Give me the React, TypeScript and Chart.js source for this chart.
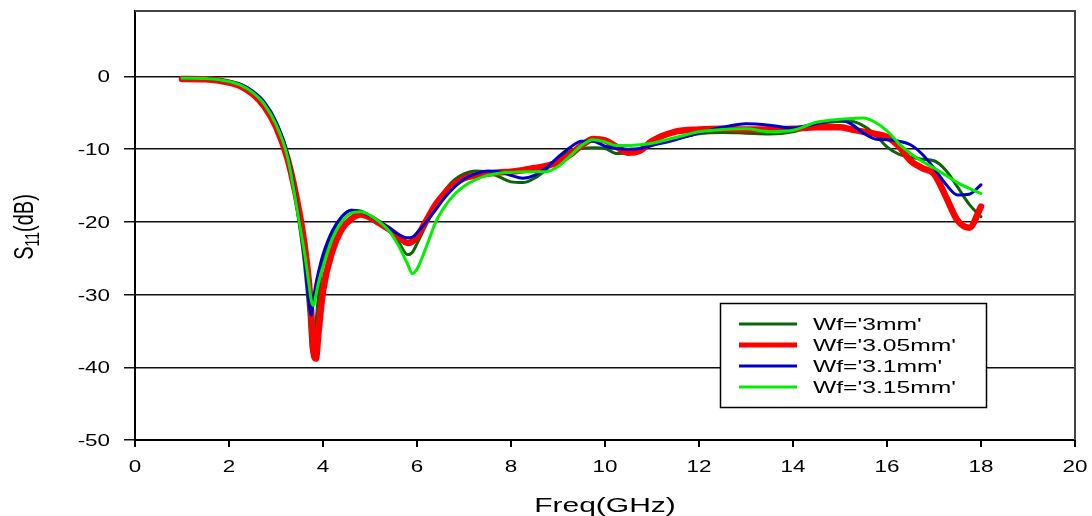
import React, { useEffect, useRef } from "react";
import { Chart, registerables } from "chart.js";

Chart.register(...registerables);

// ---- data ----
const freq = [
  1, 1.5, 2, 2.25, 2.5, 2.75, 3, 3.25, 3.5,
  3.6, 3.7, 3.75, 3.8, 3.85, 3.9, 4.0,
  4.2, 4.4, 4.6, 4.8, 5.0, 5.2, 5.4, 5.6, 5.8, 5.9,
  6.0, 6.2, 6.4, 6.6, 6.8, 7.0,
  7.25, 7.5, 7.75, 8.0, 8.25, 8.5, 8.75, 9.0,
  9.25, 9.5, 9.75, 10.0, 10.25, 10.5, 10.75, 11,
  11.5, 12, 12.5, 13, 13.5, 14, 14.5, 15,
  15.25, 15.5, 15.75, 16, 16.25, 16.5, 16.75, 17,
  17.25, 17.5, 17.75, 18,
];

const wf300 = [
  -0.25, -0.3, -0.75, -1.2, -2.1, -3.7, -6.4, -11.0, -20.5,
  -25.5, -32.5, -37.5, -38.3, -34.0, -30.5, -25.5,
  -21.5, -19.3, -18.4, -18.5, -19.2, -20.1, -21.2, -22.7, -24.5, -24.2,
  -23.0, -20.3, -17.6, -15.6, -14.2, -13.4,
  -13.0, -13.2, -13.8, -14.5, -14.6, -14.0, -12.8, -11.3,
  -10.3, -9.9, -9.8, -9.9, -10.6, -10.5, -10.0, -9.3,
  -8.6, -7.9, -7.7, -7.8, -7.9, -7.6, -6.6, -6.2,
  -6.2, -6.8, -8.0, -9.7, -10.7, -11.1, -11.4, -11.6,
  -12.9, -15.2, -17.6, -19.3,
];

const wf305 = [
  -0.35, -0.4, -0.85, -1.35, -2.4, -4.1, -6.9, -11.4, -18.8,
  -22.8, -28.3, -32.5, -38.0, -38.8, -35.5, -29.5,
  -24.0, -21.0, -19.6, -19.0, -19.4, -20.2, -21.0, -22.0, -22.9, -22.7,
  -22.0, -19.8, -17.6, -16.0, -14.8, -14.0,
  -13.6, -13.4, -13.2, -13.1, -12.9, -12.6, -12.3, -11.8,
  -10.8, -9.5, -8.6, -8.8, -9.7, -10.5, -10.2, -8.9,
  -7.6, -7.3, -7.2, -7.3, -7.3, -7.2, -7.0, -7.0,
  -7.3, -7.6, -7.9, -8.3, -9.6, -11.6, -12.6, -13.4,
  -16.5, -19.8, -20.8, -17.9,
];

const wf310 = [
  -0.25, -0.3, -0.7, -1.1, -2.0, -3.5, -6.2, -10.8, -20.0,
  -24.5, -31.0, -32.8, -30.5, -28.5, -27.0, -24.5,
  -21.2, -19.3, -18.4, -18.6, -19.2, -20.0, -20.8, -21.7, -22.2, -22.1,
  -21.5, -20.0, -18.3, -16.6, -15.2, -14.1,
  -13.4, -13.0, -13.1, -13.6, -14.0, -13.6, -12.6, -11.1,
  -9.8, -8.9, -8.9, -9.6, -9.9, -10.0, -9.9, -9.5,
  -8.7, -7.8, -7.0, -6.5, -6.7, -7.1, -6.5, -6.0,
  -6.6, -7.8, -8.6, -8.7, -8.9, -9.4, -10.7, -12.6,
  -14.8, -16.3, -16.2, -14.9,
];

const wf315 = [
  -0.25, -0.3, -0.7, -1.2, -2.2, -3.8, -6.6, -11.2, -20.2,
  -24.0, -28.5, -30.8, -31.5, -30.0, -28.5, -26.2,
  -22.3, -20.0, -18.8, -18.6, -19.1, -20.0, -21.2, -23.2, -25.8, -27.1,
  -26.5, -23.4, -20.0, -17.8, -16.2, -15.1,
  -14.2, -13.6, -13.3, -13.2, -13.1, -13.1, -13.1, -12.4,
  -11.0, -9.5, -8.7, -9.0, -9.5, -9.5, -9.4, -9.2,
  -8.4, -7.6, -7.3, -7.2, -7.6, -7.4, -6.3, -5.9,
  -5.8, -5.7, -6.3, -7.5, -9.2, -10.6, -11.7, -12.6,
  -13.6, -14.6, -15.4, -16.1,
];

const seriesLabels = ["Wf='3mm'", "Wf='3.05mm'", "Wf='3.1mm'", "Wf='3.15mm'"];
const seriesValues = [wf300, wf305, wf310, wf315];
const seriesColors = ["#0b640b", "#ff0000", "#0000c8", "#00f000"];
const seriesWidths = [3, 6.5, 3, 3];
const legendWidths = [3, 5, 3, 3];
const seriesOrder = [3, 2, 1, 0];

const xTicks = [0, 2, 4, 6, 8, 10, 12, 14, 16, 18, 20];
const yTicks = [-50, -40, -30, -20, -10, 0];
const xTitle = "Freq(GHz)";
const yTitleMain = "S";
const yTitleSub = "11";
const yTitleUnit = "(dB)";

const FONT = '"Liberation Sans", Arial, sans-serif';

function stretchText(
  ctx: CanvasRenderingContext2D,
  text: string,
  x: number,
  y: number,
  align: CanvasTextAlign,
  sx: number,
  font: string
) {
  ctx.save();
  ctx.font = font;
  ctx.fillStyle = "#000";
  ctx.textBaseline = "alphabetic";
  ctx.translate(x, y);
  ctx.scale(sx, 1);
  ctx.textAlign = align;
  ctx.fillText(text, 0, 0);
  ctx.restore();
}

const decorPlugin = {
  id: "decor",
  afterDraw(chart: any) {
    const ctx: CanvasRenderingContext2D = chart.ctx;
    const area = chart.chartArea;
    const xs = chart.scales.x;
    const ys = chart.scales.y;

    // top & right frame
    ctx.save();
    ctx.strokeStyle = "#444";
    ctx.lineWidth = 2;
    ctx.beginPath();
    ctx.moveTo(area.left, area.top);
    ctx.lineTo(area.right, area.top);
    ctx.lineTo(area.right, area.bottom);
    ctx.stroke();
    ctx.restore();

    // y tick labels
    ys.ticks.forEach((t: any) => {
      const py = ys.getPixelForValue(t.value);
      stretchText(ctx, String(t.value), 110, py + 6, "right", 1.4, `16px ${FONT}`);
    });
    // x tick labels
    xs.ticks.forEach((t: any) => {
      const px = xs.getPixelForValue(t.value);
      stretchText(ctx, String(t.value), px, 472, "center", 1.4, `16px ${FONT}`);
    });

    // x title
    stretchText(ctx, xTitle, (area.left + area.right) / 2, 512, "center", 1.5, `20px ${FONT}`);

    // y title (rotated)
    ctx.save();
    ctx.fillStyle = "#000";
    ctx.translate(23.5, 227);
    ctx.rotate(-Math.PI / 2);
    ctx.scale(1, 1.4);
    ctx.textBaseline = "alphabetic";
    ctx.textAlign = "left";
    const fMain = `20px ${FONT}`;
    const fSub = `14px ${FONT}`;
    ctx.font = fMain;
    const w1 = ctx.measureText(yTitleMain).width;
    const w3 = ctx.measureText(yTitleUnit).width;
    ctx.font = fSub;
    const w2 = ctx.measureText(yTitleSub).width;
    let x0 = -(w1 + w2 + w3) / 2;
    ctx.font = fMain;
    ctx.fillText(yTitleMain, x0, 7);
    x0 += w1;
    ctx.font = fSub;
    ctx.fillText(yTitleSub, x0, 11);
    x0 += w2;
    ctx.font = fMain;
    ctx.fillText(yTitleUnit, x0, 7);
    ctx.restore();

    // legend
    ctx.save();
    ctx.fillStyle = "#fff";
    ctx.fillRect(720, 303, 267, 105);
    ctx.strokeStyle = "#000";
    ctx.lineWidth = 1.5;
    ctx.strokeRect(720.5, 303.5, 266, 104);
    const rows = [324, 345, 366, 387];
    seriesLabels.forEach((lab, i) => {
      const y = rows[i];
      ctx.strokeStyle = seriesColors[i];
      ctx.lineWidth = legendWidths[i];
      ctx.beginPath();
      ctx.moveTo(739, y);
      ctx.lineTo(797, y);
      ctx.stroke();
      stretchText(ctx, lab, 813, y + 6, "left", 1.45, `17px ${FONT}`);
    });
    ctx.restore();
  },
};

export default function App() {
  const ref = useRef<HTMLCanvasElement>(null);

  useEffect(() => {
    document.body.style.margin = "0";
    const canvas = ref.current!;
    const datasets = seriesLabels.map((label, i) => ({
      label,
      data: freq.map((f, k) => ({ x: f, y: seriesValues[i][k] })),
      borderColor: seriesColors[i],
      backgroundColor: seriesColors[i],
      borderWidth: seriesWidths[i],
      pointRadius: 0,
      fill: false,
      cubicInterpolationMode: "monotone" as const,
      borderJoinStyle: "round" as const,
      borderCapStyle: "round" as const,
      order: seriesOrder[i],
    }));

    const chart = new Chart(canvas, {
      type: "line",
      data: { datasets },
      options: {
        animation: false,
        responsive: false,
        devicePixelRatio: 1,
        layout: { padding: { left: 0, right: 17, top: 11, bottom: 0 } },
        plugins: {
          legend: { display: false },
          tooltip: { enabled: false },
          title: { display: false },
        },
        scales: {
          x: {
            type: "linear",
            min: 0,
            max: 20,
            afterBuildTicks: (s: any) => {
              s.ticks = xTicks.map((v) => ({ value: v }));
            },
            afterFit: (s: any) => {
              s.height = 76;
            },
            ticks: { display: false },
            grid: {
              drawOnChartArea: false,
              drawTicks: true,
              tickLength: 7,
              color: "#000",
              lineWidth: 2,
            },
            border: { display: true, color: "#000", width: 2 },
          },
          y: {
            type: "linear",
            min: -50,
            max: 9,
            afterBuildTicks: (s: any) => {
              s.ticks = yTicks.map((v) => ({ value: v }));
            },
            afterFit: (s: any) => {
              s.width = 135;
            },
            ticks: { display: false },
            grid: {
              drawOnChartArea: true,
              drawTicks: true,
              tickLength: 11,
              color: "#111",
              lineWidth: 1.5,
            },
            border: { display: true, color: "#000", width: 2 },
          },
        },
      },
      plugins: [decorPlugin],
    });
    return () => chart.destroy();
  }, []);

  return (
    <div style={{ width: 1092, height: 516 }}>
      <canvas ref={ref} width={1092} height={516} style={{ display: "block" }} />
    </div>
  );
}
